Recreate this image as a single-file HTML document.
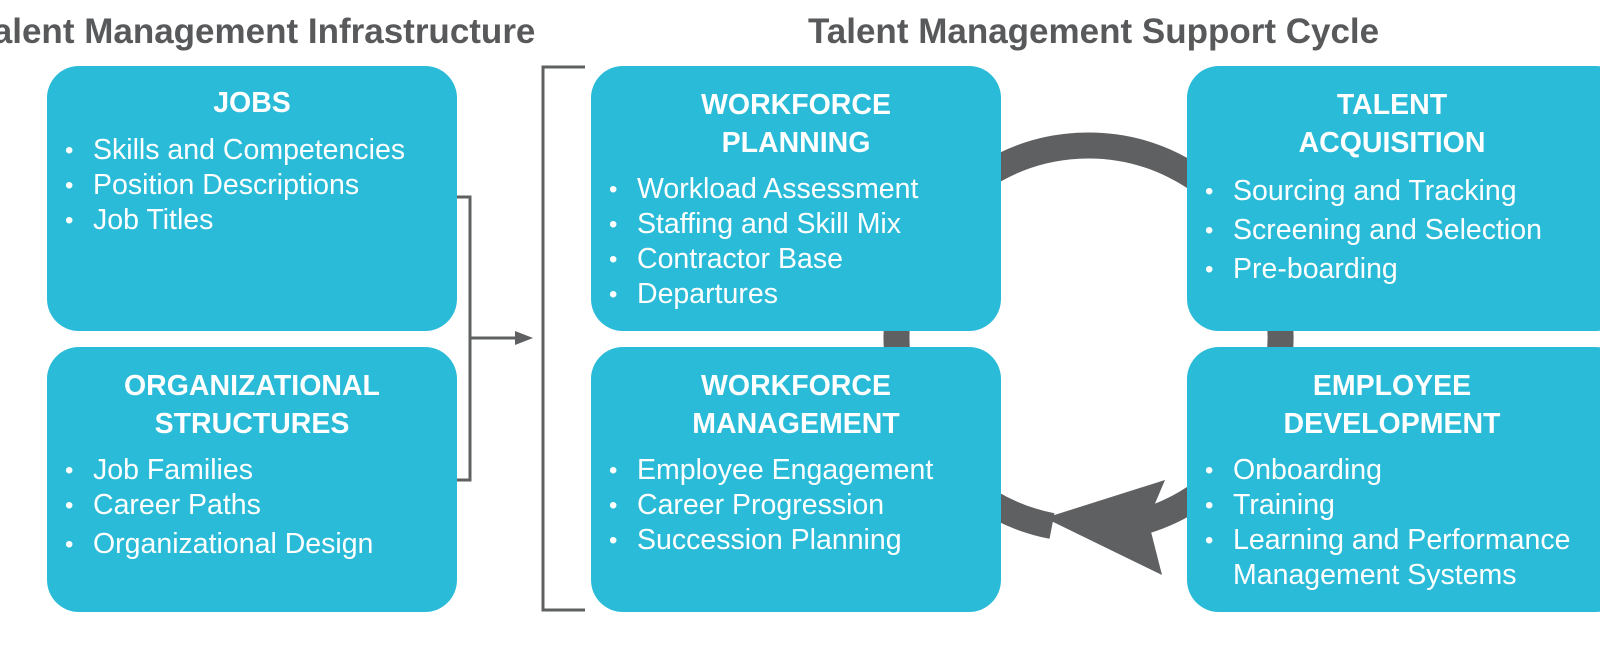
<!DOCTYPE html>
<html><head><meta charset="utf-8"><style>
body{margin:0;width:1600px;height:645px;background:#fff;overflow:hidden;position:relative;font-family:"Liberation Sans",Arial,sans-serif}
.t{position:absolute;top:12px;font-weight:bold;font-size:35px;color:#58595b;white-space:nowrap}
.b{position:absolute;background:#29bbd7;border-radius:32px;color:#fff;width:410px;height:265px;box-sizing:border-box}
.h{position:absolute;left:0;right:0;text-align:center;font-weight:bold;font-size:28.5px;line-height:38px}
ul{position:absolute;margin:0;padding:0;list-style:none;font-size:28.5px;line-height:35px;white-space:nowrap}
li:before{content:"•";display:inline-block;width:28px;font-size:24px;vertical-align:top}
svg{position:absolute;left:0;top:0}
</style></head><body>
<svg width="1600" height="645">
<path d="M1052 526 A192 192 0 1 1 1145 521" fill="none" stroke="#5f6062" stroke-width="26"/>
<polygon points="1045,518 1165,480 1148,520 1162,575" fill="#5f6062"/>
<polyline points="455,197 470,197 470,480 455,480" fill="none" stroke="#5f6062" stroke-width="3"/>
<line x1="470" y1="338" x2="520" y2="338" stroke="#5f6062" stroke-width="3"/>
<polygon points="533,338 515,331 515,345" fill="#5f6062"/>
<polyline points="585,67 543,67 543,610 585,610" fill="none" stroke="#5f6062" stroke-width="3"/>
</svg>
<div class="t" style="left:-26px">Talent Management Infrastructure</div>
<div class="t" style="left:808px">Talent Management Support Cycle</div>

<div class="b" style="left:47px;top:66px"><div class="h" style="top:18px">JOBS</div>
<ul style="left:18px;top:67px"><li>Skills and Competencies</li><li>Position Descriptions</li><li>Job Titles</li></ul></div>

<div class="b" style="left:47px;top:347px"><div class="h" style="top:20px">ORGANIZATIONAL<br>STRUCTURES</div>
<ul style="left:18px;top:106px"><li>Job Families</li><li>Career Paths</li><li style="margin-top:4px">Organizational Design</li></ul></div>

<div class="b" style="left:591px;top:66px"><div class="h" style="top:20px">WORKFORCE<br>PLANNING</div>
<ul style="left:18px;top:106px"><li>Workload Assessment</li><li>Staffing and Skill Mix</li><li>Contractor Base</li><li>Departures</li></ul></div>

<div class="b" style="left:591px;top:347px"><div class="h" style="top:20px">WORKFORCE<br>MANAGEMENT</div>
<ul style="left:18px;top:106px"><li>Employee Engagement</li><li>Career Progression</li><li>Succession Planning</li></ul></div>

<div class="b" style="left:1187px;top:66px;width:440px"><div class="h" style="top:20px;right:30px">TALENT<br>ACQUISITION</div>
<ul style="left:18px;top:106px;line-height:39px"><li>Sourcing and Tracking</li><li>Screening and Selection</li><li>Pre-boarding</li></ul></div>

<div class="b" style="left:1187px;top:347px;width:440px"><div class="h" style="top:20px;right:30px">EMPLOYEE<br>DEVELOPMENT</div>
<ul style="left:18px;top:106px"><li>Onboarding</li><li>Training</li><li>Learning and Performance<br><span style="padding-left:28px">Management Systems</span></li></ul></div>
</body></html>
